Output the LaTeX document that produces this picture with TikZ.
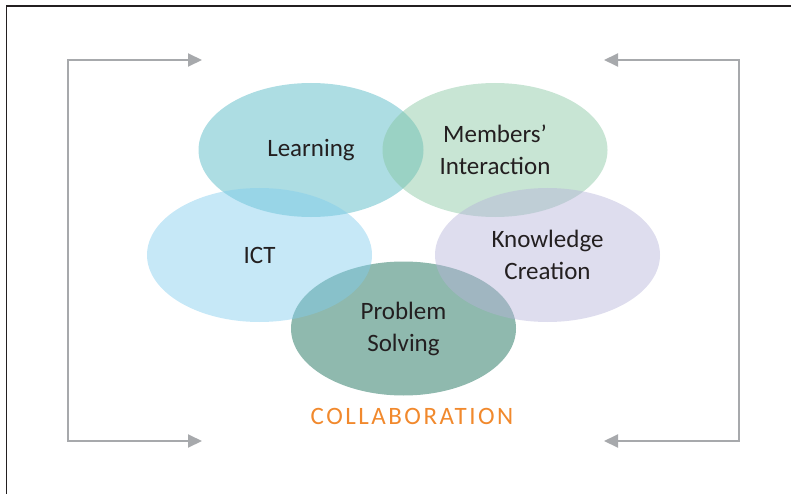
\documentclass[tikz,border=0pt]{standalone}
\usepackage{fontspec}
\setmainfont{Carlito}
\usetikzlibrary{shapes.geometric,arrows.meta}
\definecolor{learncol}{RGB}{73,179,193}
\definecolor{membercol}{RGB}{133,197,159}
\definecolor{ictcol}{RGB}{128,204,237}
\definecolor{knowcol}{RGB}{182,179,217}
\definecolor{probcol}{RGB}{6,99,75}
\definecolor{loopgrey}{RGB}{167,169,172}
\definecolor{labeltext}{RGB}{35,31,32}
\definecolor{collabcol}{RGB}{241,137,45}
\begin{document}
\begin{tikzpicture}[x=1pt,y=-1pt,
  blob/.style={ellipse, minimum width=225pt, minimum height=134pt, inner sep=0pt,
    fill opacity=0.45, text opacity=1, text=labeltext, align=center,
    font=\fontsize{25}{32}\selectfont},
  loop/.style={draw=loopgrey, line width=2pt,
    {Triangle[length=14pt,width=13pt]}-{Triangle[length=14pt,width=13pt]}}]
\useasboundingbox (0,0) rectangle (791,494);
\draw [labeltext, line width=1.2pt] (6.5,494) -- (6.5,6) -- (791,6);
% the five circles, bottom one first
\node [blob, fill=probcol] (problem) at (403.5,328.5) {Problem\\Solving};
\node [blob, fill=learncol] (learning) at (311,150) {Learning};
\node [blob, fill=ictcol] (ict) at (259.5,255) {ICT};
\node [blob, fill=membercol] (members) at (495,150) {Members’\\Interaction};
\node [blob, fill=knowcol] (knowledge) at (547.5,255) {Knowledge\\Creation};
\node [text=collabcol, font=\fontsize{25}{30}\selectfont\addfontfeature{LetterSpace=10}]
  (collab) at (412,416) {COLLABORATION};
% loop brackets
\coordinate (ltop) at (202,60);
\coordinate (lup) at (68,60);
\coordinate (ldown) at (68,441);
\coordinate (lbot) at (202,441);
\coordinate (rtop) at (604,60);
\coordinate (rup) at (739,60);
\coordinate (rdown) at (739,441);
\coordinate (rbot) at (604,441);
\draw [loop] (ltop) -- (lup) -- (ldown) -- (lbot);
\draw [loop] (rtop) -- (rup) -- (rdown) -- (rbot);
\end{tikzpicture}
\end{document}
